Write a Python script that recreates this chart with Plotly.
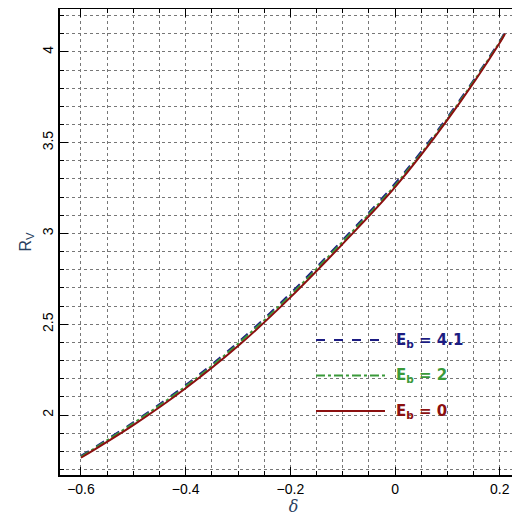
import plotly.graph_objects as go

delta = [-0.6, -0.5, -0.4, -0.3, -0.2, -0.1, 0.0, 0.1, 0.2, 0.21]
rv_41 = [1.775, 1.96, 2.165, 2.40, 2.67, 2.965, 3.275, 3.64, 4.06, 4.11]
rv_2 = [1.77, 1.955, 2.158, 2.392, 2.66, 2.955, 3.265, 3.632, 4.055, 4.105]
rv_0 = [1.765, 1.945, 2.148, 2.38, 2.648, 2.943, 3.255, 3.625, 4.05, 4.10]
labels = ["E<sub>b</sub> = 4.1", "E<sub>b</sub> = 2", "E<sub>b</sub> = 0"]
colors = ["#1c1c82", "#3a9a3a", "#8b1010"]
dashes = ["dash", "dashdot", "solid"]

fig = go.Figure()
for ys, c, d, n in zip([rv_41, rv_2, rv_0], colors, dashes, labels):
    fig.add_trace(go.Scatter(x=delta, y=ys, mode="lines", line=dict(color=c, dash=d, width=2),
                             name=n, showlegend=False, line_shape="spline"))

W0, W1, H0, H1 = 52, 519, 1, 467
def px(x): return (x - W0) / (W1 - W0)
def py(y): return 1 - (y - H0) / (H1 - H0)
for i, (c, d, n) in enumerate(zip(colors, dashes, labels)):
    yy = py(332 + i * 35.5)
    fig.add_shape(type="line", xref="paper", yref="paper", x0=px(308), x1=px(377), y0=yy, y1=yy,
                  line=dict(color=c, dash=d, width=2))
    fig.add_annotation(xref="paper", yref="paper", x=px(386), y=yy, xanchor="left", yanchor="middle",
                       text="<b>" + n + "</b>", showarrow=False, font=dict(color=c, size=15, family="DejaVu Sans"))

ax = dict(showline=True, linecolor="black", linewidth=1.5, mirror="ticks", ticks="inside",
          ticklen=8, tickcolor="black", showgrid=True, gridcolor="#777", griddash="dot", gridwidth=1,
          zeroline=False, automargin=False, tickfont=dict(size=14, family="Liberation Sans", color="black"))
mn = dict(ticks="inside", ticklen=4, showgrid=True, gridcolor="#777", griddash="dot", tickcolor="black")
fig.update_xaxes(**ax, range=[-0.64, 0.252], tickvals=[-0.6, -0.4, -0.2, 0, 0.2],
                 ticktext=["−0.6", "−0.4", "−0.2", "0", "0.2"],
                 minor=dict(dtick=0.05, tick0=0, **mn),
                 title=dict(text="<i>δ</i>", font=dict(size=16, family="DejaVu Serif"), standoff=2))
fig.update_yaxes(**ax, range=[1.67, 4.236], tickvals=[2, 2.5, 3, 3.5, 4], tickangle=-90,
                 minor=dict(dtick=0.1, tick0=0, **mn),
                 title=dict(text="R<sub>V</sub>", font=dict(size=16, family="Liberation Sans"), standoff=4))
fig.update_layout(width=520, height=512, margin=dict(l=52, r=1, t=1, b=45),
                  plot_bgcolor="white", paper_bgcolor="white")
fig.write_html("out.html")
